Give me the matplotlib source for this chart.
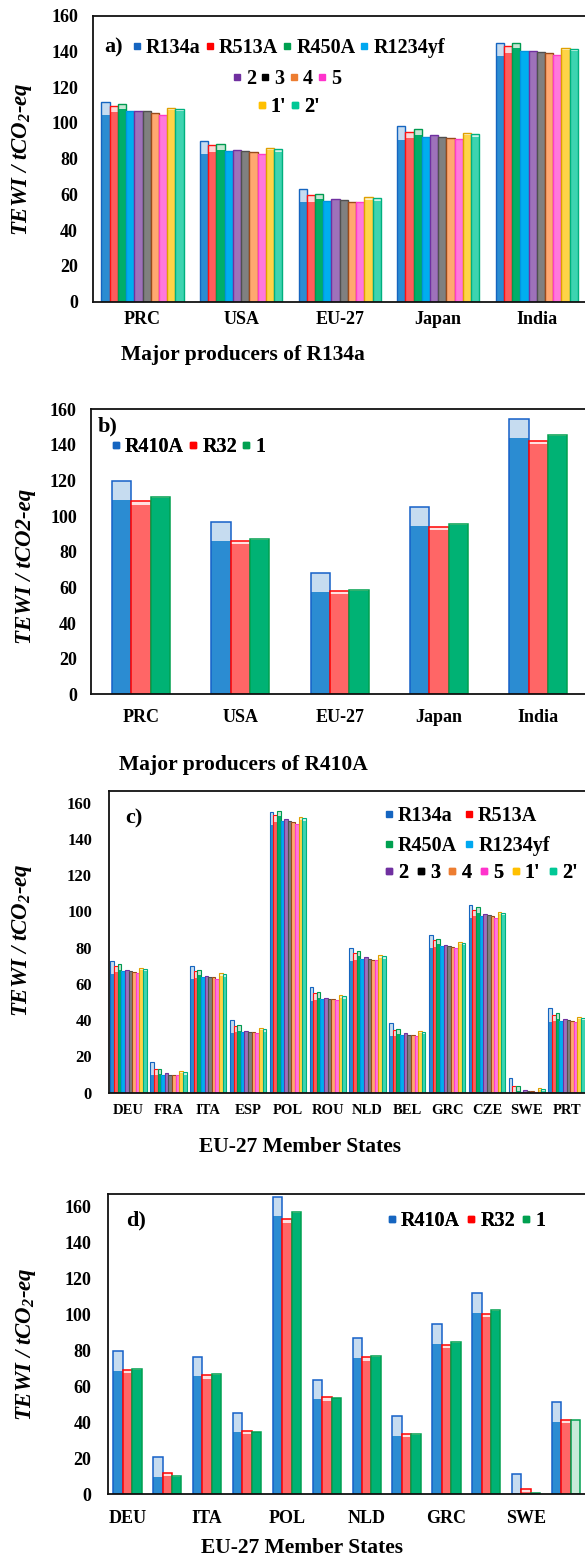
import matplotlib
matplotlib.use('Agg')
import matplotlib.pyplot as plt
from matplotlib.lines import Line2D
import numpy as np

plt.rcParams['font.family'] = ['Liberation Serif', 'DejaVu Serif']
plt.rcParams['font.weight'] = 'bold'
plt.rcParams['mathtext.fontset'] = 'custom'
plt.rcParams['mathtext.rm'] = 'Liberation Serif:bold:italic'
plt.rcParams['mathtext.it'] = 'Liberation Serif:bold:italic'
plt.rcParams['mathtext.bf'] = 'Liberation Serif:bold:italic'

W, H = 585, 1559

# ---------------- data ----------------
producers = ['PRC', 'USA', 'EU-27', 'Japan', 'India']
eu_states = ['DEU', 'FRA', 'ITA', 'ESP', 'POL', 'ROU', 'NLD', 'BEL', 'GRC', 'CZE', 'SWE', 'PRT']

series_a = ['R134a', 'R513A', 'R450A', 'R1234yf', '2', '3', '4', '5', "1'", "2'"]
series_b = ['R410A', 'R32', '1']

# direct-emission share (light top part) per refrigerant
direct_a = [7.4, 3.6, 3.0, 0.3, 0.3, 0.3, 0.3, 0.3, 1.3, 1.3]
direct_b = [10.7, 1.8, 0.4]

# panel a totals (series x producers)
a_R134a = [111.9, 90.0, 63.1, 98.1, 145.0]
a_R513A = [109.5, 87.4, 59.5, 95.1, 142.8]
a_R450A = [110.8, 88.1, 60.4, 96.4, 145.0]
a_R1234yf = [106.5, 84.2, 56.5, 92.3, 140.0]
a_2 = [106.8, 84.8, 57.4, 93.0, 140.5]
a_3 = [106.5, 84.2, 56.7, 92.3, 139.8]
a_4 = [105.4, 83.5, 56.0, 91.7, 139.0]
a_5 = [104.6, 82.7, 55.6, 91.1, 137.9]
a_1p = [108.3, 86.1, 58.4, 94.5, 142.0]
a_2p = [107.8, 85.3, 57.8, 93.6, 141.5]

# panel b totals
b_R410A = [119.6, 96.6, 68.2, 105.3, 154.5]
b_R32 = [108.3, 85.9, 58.1, 93.8, 142.3]
b_1 = [110.7, 87.2, 58.3, 95.7, 145.5]

# panel c totals (series x EU states)
c_R134a = [72.6, 17.1, 69.9, 40.1, 155.0, 58.1, 80.0, 38.6, 87.0, 103.5, 7.9, 46.5]
c_R513A = [70.1, 13.1, 67.1, 37.0, 153.0, 54.8, 76.9, 34.6, 84.2, 100.8, 3.9, 42.9]
c_R450A = [70.8, 13.1, 67.9, 37.1, 155.4, 55.4, 78.2, 35.3, 85.0, 102.3, 3.9, 43.8]
c_R1234yf = [67.1, 9.7, 64.0, 33.7, 149.9, 51.5, 73.7, 31.8, 80.9, 97.7, 0.6, 39.5]
c_2 = [67.5, 10.7, 64.6, 34.2, 150.8, 52.4, 74.7, 32.7, 81.7, 98.8, 1.5, 40.5]
c_3 = [67.1, 9.9, 64.0, 33.7, 150.1, 51.9, 73.9, 32.0, 80.9, 97.8, 0.9, 39.9]
c_4 = [66.6, 9.7, 63.6, 33.3, 149.1, 51.5, 73.4, 31.8, 80.4, 97.3, 0.7, 39.4]
c_5 = [66.0, 9.6, 62.9, 33.1, 148.2, 50.9, 73.0, 31.5, 79.8, 96.6, 0.6, 39.0]
c_1p = [68.8, 12.1, 65.8, 35.7, 151.9, 53.7, 75.8, 34.0, 83.1, 99.7, 2.8, 41.9]
c_2p = [68.2, 11.2, 65.3, 34.9, 151.4, 53.1, 75.2, 33.5, 82.6, 99.1, 2.2, 41.2]

# panel d totals
d_R410A = [79.4, 20.5, 76.4, 45.1, 165.2, 63.4, 86.6, 43.3, 94.3, 111.5, 11.3, 51.1]
d_R32 = [69.0, 11.8, 66.0, 35.3, 152.6, 53.8, 76.0, 33.5, 83.1, 100.3, 2.8, 41.4]
d_1 = [69.6, 10.2, 66.6, 34.8, 156.5, 53.6, 76.8, 33.5, 84.4, 102.1, 0.9, 41.3]

yticks = [0, 20, 40, 60, 80, 100, 120, 140, 160]

# ---------------- styles ----------------
fill_a = ['#2B8CD2', '#FF5C5C', '#00AE6A', '#00AEEF', '#9E72BA', '#808080',
          '#FFA870', '#FF78DC', '#FFD447', '#3DD4B0']
edge_a = ['#1565C0', '#FF1010', '#009A50', '#0095E0', '#7030A0', '#505050',
          '#9A4A1A', '#FF3CC8', '#E0A000', '#00B07E']
light_a = ['#C6DCF0', '#FFD6D6', '#C5E6D3', '#CDEFFC', '#E2D5EC', '#DDDDDD',
           '#FFE3D0', '#FFE0F5', '#FFF3C8', '#D0F3EA']
leg_a = ['#1565C0', '#FF0000', '#00A050', '#00A8F0', '#7030A0', '#000000',
         '#ED7D31', '#FF33CC', '#FFC000', '#00C896']

fill_b = ['#2B8CD2', '#FF6666', '#00B274']
edge_b = ['#1560C8', '#FF0000', '#00A050']
light_b = ['#C6DCF0', '#FFE0E0', '#C8EAD8']
leg_b = ['#1565C0', '#FF0000', '#00A050']

fig = plt.figure(figsize=(W / 100, H / 100), dpi=100)


def rect(left, right, top, bottom):
    return [left / W, 1 - bottom / H, (right - left) / W, (bottom - top) / H]


def draw(ax, n, totals, direct, fills, edges, lights, width, lw, fill_override=None):
    k = len(totals)
    base = np.arange(n)
    for i in range(k):
        x = base + (i - (k - 1) / 2) * width
        tot = np.array(totals[i], dtype=float)
        ind = tot - direct[i]
        fc = fills[i]
        if fill_override is not None and i in fill_override:
            fc = fill_override[i]
        ax.bar(x, ind, width, color=fc, linewidth=0)
        ax.bar(x, tot - ind, width, bottom=ind, color=lights[i], linewidth=0)
        ax.bar(x, tot, width, fill=False, edgecolor=edges[i], linewidth=lw)


def style(ax, cats, ylim, ticksize_x, ticksize_y, padx, pady, labels=None):
    ax.set_xlim(-0.5, len(cats) - 0.5)
    ax.set_ylim(0, ylim)
    ax.set_yticks(yticks)
    ax.set_xticks(np.arange(len(cats)))
    ax.set_xticklabels(labels if labels is not None else cats, fontsize=ticksize_x, fontweight='bold')
    ax.tick_params(axis='x', length=0, pad=padx)
    ax.tick_params(axis='y', length=0, pad=pady, labelsize=ticksize_y)
    for s in ax.spines.values():
        s.set_linewidth(1.3)
        s.set_color('#111111')


def ylab(ax, text, x, y):
    ax.set_ylabel(text, fontsize=16.5, fontweight='bold', fontstyle='italic')
    ax.yaxis.set_label_coords(x / W, 1 - y / H, transform=fig.transFigure)
    ax.yaxis.label.set_va('center')
    ax.yaxis.label.set_ha('center')


def xlab(ax, text, x, y):
    ax.set_xlabel(text, fontsize=15.5, fontweight='bold')
    ax.xaxis.set_label_coords(x / W, 1 - y / H, transform=fig.transFigure)
    ax.xaxis.label.set_va('center')


def legend_row(ax, labels, colors, x, y, loc, cs, fs=14.5):
    handles = [Line2D([], [], marker='s', linestyle='none', markersize=3.8, color=c) for c in colors]
    leg = ax.legend(handles, labels, loc=loc, bbox_to_anchor=(x / W, 1 - y / H),
                    bbox_transform=fig.transFigure, ncol=len(labels), frameon=False,
                    handlelength=0.4, handletextpad=0.25, columnspacing=cs,
                    borderpad=0, borderaxespad=0,
                    prop={'family': 'Liberation Serif', 'weight': 'bold', 'size': fs})
    ax.add_artist(leg)


# ---------------- panel a ----------------
ax_a = fig.add_axes(rect(93.3, 586, 15.7, 301.7))
draw(ax_a, 5, [a_R134a, a_R513A, a_R450A, a_R1234yf, a_2, a_3, a_4, a_5, a_1p, a_2p],
     direct_a, fill_a, edge_a, light_a, 0.0835, 1.0)
style(ax_a, producers, 160, 13, 13, 7, 11)
ylab(ax_a, 'TEWI / tCO$_2$-eq', 22, 158.7)
xlab(ax_a, 'Major producers of R134a', 243, 355)
legend_row(ax_a, series_a[:4], leg_a[:4], 289, 48, 'center', 0.25)
legend_row(ax_a, series_a[4:8], leg_a[4:8], 287, 79, 'center', 0.25)
legend_row(ax_a, series_a[8:], leg_a[8:], 289, 107, 'center', 0.25)
fig.text(104 / W, 1 - 47 / H, 'a)', fontsize=16, fontweight='bold', ha='left', va='center')

# ---------------- panel b ----------------
ax_b = fig.add_axes(rect(91.4, 588, 409.3, 694.3))
draw(ax_b, 5, [b_R410A, b_R32, b_1], direct_b, fill_b, edge_b, light_b, 0.195, 1.1)
style(ax_b, producers, 160, 13, 13, 10.5, 10.5)
ylab(ax_b, 'TEWI / tCO2-eq', 26, 566)
xlab(ax_b, 'Major producers of R410A', 243, 765)
legend_row(ax_b, series_b, leg_b, 112, 447, 'center left', 0.25)
fig.text(98 / W, 1 - 426 / H, 'b)', fontsize=16, fontweight='bold', ha='left', va='center')

# ---------------- panel c ----------------
ax_c = fig.add_axes(rect(108.7, 586.5, 791, 1092.7))
draw(ax_c, 12, [c_R134a, c_R513A, c_R450A, c_R1234yf, c_2, c_3, c_4, c_5, c_1p, c_2p],
     direct_a, fill_a, edge_a, light_a, 0.091, 0.8)
style(ax_c, eu_states, 166.4, 10.5, 12, 8, 12)
ylab(ax_c, 'TEWI / tCO$_2$-eq', 22.5, 940)
xlab(ax_c, 'EU-27 Member States', 300, 1147)
legend_row(ax_c, series_a[0:2], leg_a[0:2], 385, 816, 'center left', 0.6)
legend_row(ax_c, series_a[2:4], leg_a[2:4], 385, 846, 'center left', 0.4)
legend_row(ax_c, series_a[4:], leg_a[4:], 385, 873, 'center left', 0.42)
fig.text(125 / W, 1 - 818 / H, 'c)', fontsize=16, fontweight='bold', ha='left', va='center')

# ---------------- panel d ----------------
ax_d = fig.add_axes(rect(107.5, 586, 1194, 1494.3))
# the last green bar (PRT) is drawn light in the original
green_fills_d = [fill_b[2]] * (len(eu_states) - 1) + [light_b[2]]
draw(ax_d, 12, [d_R410A, d_R32, d_1], direct_b, fill_b, edge_b, light_b, 0.237, 1.1,
     fill_override={2: green_fills_d})
style(ax_d, eu_states, 166.7, 13, 13, 11, 11.5,
      labels=[s if i % 2 == 0 else '' for i, s in enumerate(eu_states)])
ylab(ax_d, 'TEWI / tCO$_2$-eq', 26, 1344)
xlab(ax_d, 'EU-27 Member States', 302, 1548)
legend_row(ax_d, series_b, leg_b, 388, 1221, 'center left', 0.35)
fig.text(126 / W, 1 - 1220 / H, 'd)', fontsize=16, fontweight='bold', ha='left', va='center')

fig.savefig('out.png', dpi=100)
